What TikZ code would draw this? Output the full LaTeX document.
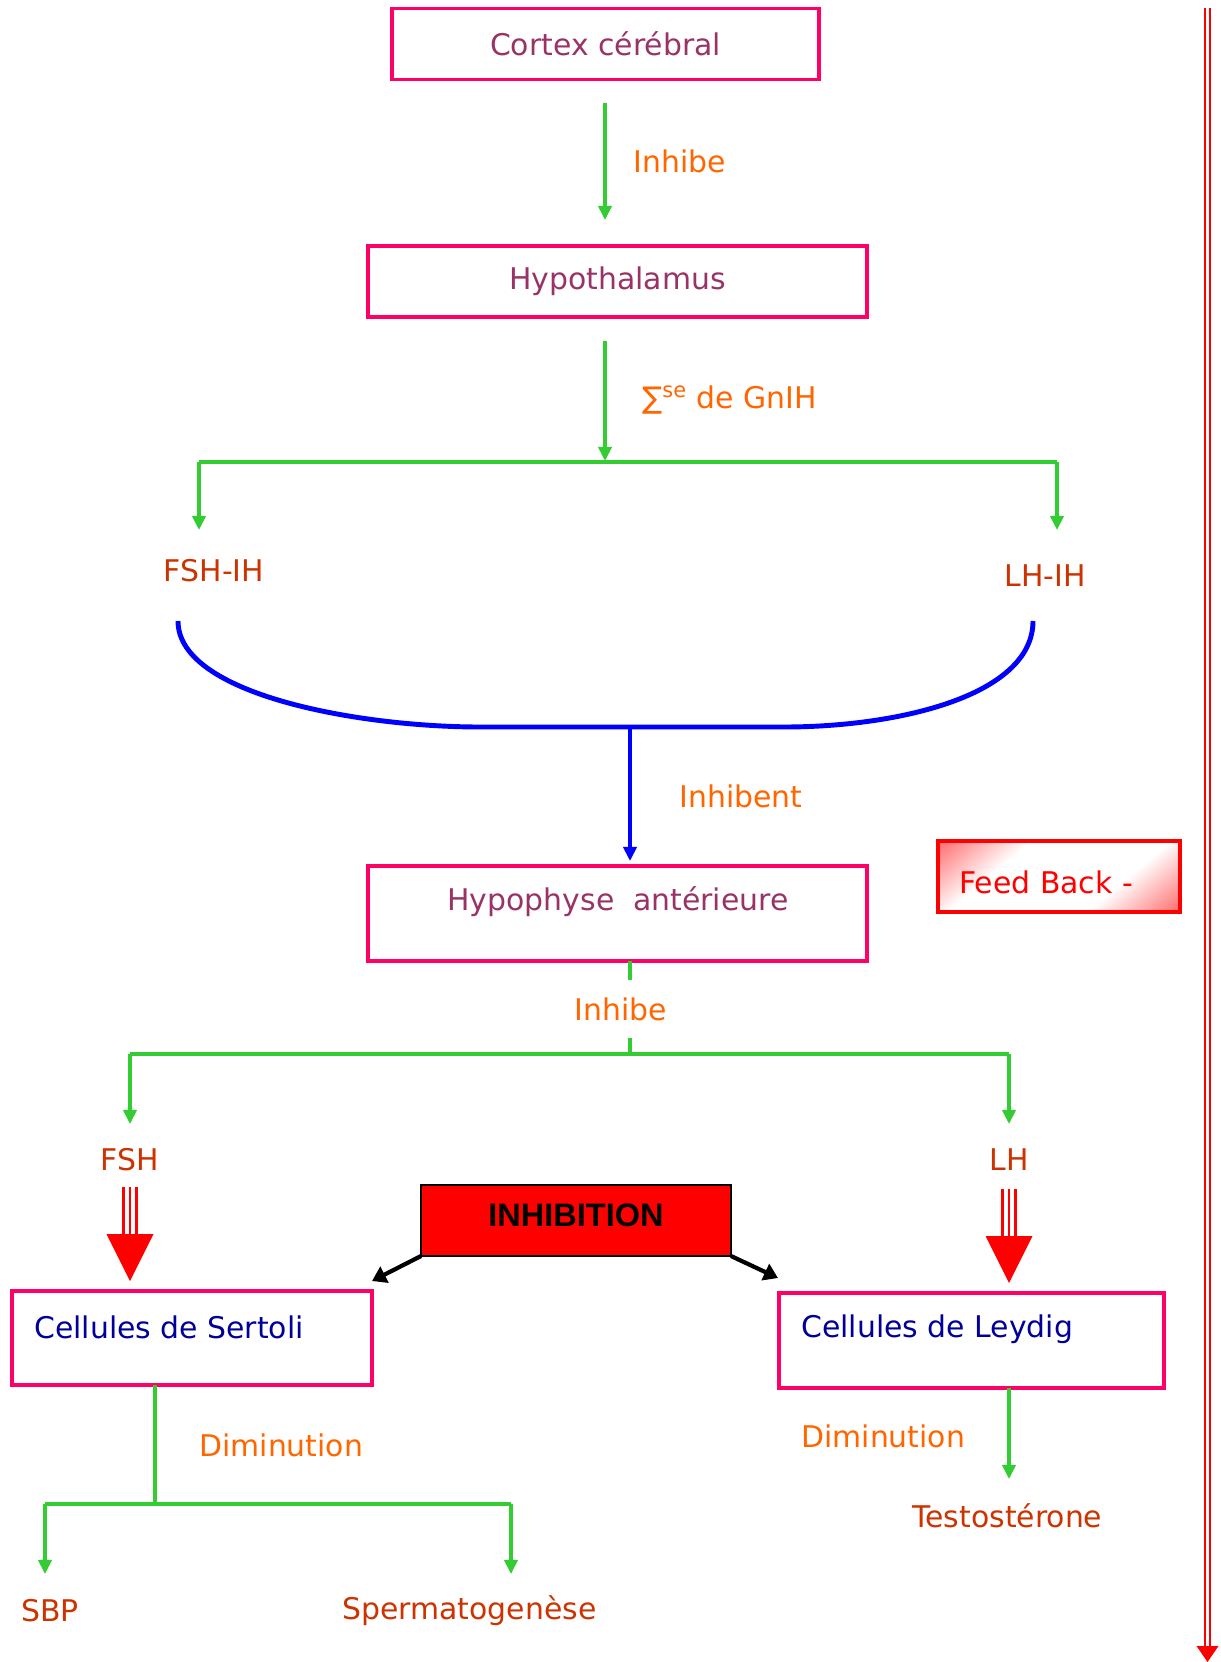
\documentclass[tikz,border=0pt]{standalone}
\usepackage{fontspec}
\setmainfont{DejaVu Sans}
\newfontfamily\arialfont{Liberation Sans}
\usetikzlibrary{arrows.meta,calc}
\definecolor{boxpink}{HTML}{FF0066}
\definecolor{titlecol}{HTML}{993366}
\definecolor{ggreen}{HTML}{33CC33}
\definecolor{orlab}{HTML}{FF6600}
\definecolor{hormcol}{HTML}{CC3300}
\definecolor{navycol}{HTML}{000099}
\pgfdeclareverticalshading{fbshade}{100bp}{color(0bp)=(red); color(35bp)=(white); color(65bp)=(white); color(100bp)=(red)}
\tikzset{
  pinkbox/.style={draw=boxpink, line width=1.8pt, inner sep=0pt, outer sep=0pt},
  txt/.style={inner sep=0pt, font=\fontsize{17}{20}\selectfont},
  title/.style={txt, text=titlecol},
  lab/.style={txt, text=orlab},
  horm/.style={txt, text=hormcol},
  cell/.style={txt, text=navycol},
  gline/.style={draw=ggreen, line width=1.9pt},
  garrow/.style={gline, -{Triangle[length=8pt,width=7.5pt]}},
  barrow/.style={draw=black, line width=2.4pt, -{Triangle[length=8pt,width=10pt]}},
  redline/.style={draw=red, line width=1.3pt},
}
\begin{document}
\begin{tikzpicture}[x=0.02cm,y=-0.02cm]
\useasboundingbox (0,0) rectangle (1220,1662);

% boxes
\node[pinkbox, minimum width=8.54cm, minimum height=1.42cm, title] (cortex) at (605.5,44) {Cortex cérébral};
\node[pinkbox, minimum width=9.98cm, minimum height=1.42cm, title] (hypo) at (617.5,281.5) {Hypothalamus};
\node[pinkbox, minimum width=9.98cm, minimum height=1.9cm] (hypoph) at (617.5,913.5) {};
\node[title] (thypoph) at (618,902) {Hypophyse\ \ antérieure};
\node[draw=red, line width=2.2pt, outer sep=0pt, minimum width=4.84cm, minimum height=1.42cm, shading=fbshade, shading angle=40] (fb) at (1059,876.5) {};
\node[txt, text=red, anchor=west] (tfb) at (959,882) {Feed Back -};
\node[draw=black, line width=0.8pt, outer sep=0pt, fill=red, minimum width=6.2cm, minimum height=1.42cm] (inhib) at (576,1220.5) {};
\node[inner sep=0pt, font=\arialfont\bfseries\fontsize{18.5}{21}\selectfont] (tinhib) at (576,1215) {INHIBITION};
\node[pinkbox, minimum width=7.2cm, minimum height=1.88cm] (sert) at (192,1338) {};
\node[cell, anchor=west] (tsert) at (34,1327) {Cellules de Sertoli};
\node[pinkbox, minimum width=7.7cm, minimum height=1.9cm] (leyd) at (971.5,1340.5) {};
\node[cell, anchor=west] (tleyd) at (801,1329) {Cellules de Leydig};

% labels
\node[lab, anchor=west] (l1) at (633,161) {Inhibe};
\node[lab, anchor=west] (l2) at (642,400) {∑\textsuperscript{se} de GnIH};
\node[horm] (fshih) at (214,571) {FSH-IH};
\node[horm] (lhih) at (1045,576) {LH-IH};
\node[lab, anchor=west] (l3) at (679,796) {Inhibent};
\node[horm] (fsh) at (130,1160) {FSH};
\node[horm] (lh) at (1009,1160) {LH};
\node[lab, anchor=west] (l5) at (199,1445) {Diminution};
\node[lab, anchor=west] (l6) at (801,1436) {Diminution};
\node[horm, anchor=west] (sbp) at (21,1611) {SBP};
\node[horm, anchor=west] (sperm) at (342,1611) {Spermatogenèse};
\node[horm, anchor=west] (testo) at (912,1516) {Testostérone};

% cortex -> hypothalamus
\coordinate (c1) at (605,103);
\coordinate (c2) at (605,220);
\draw[garrow] (c1) -- (c2);
% hypothalamus -> split
\coordinate (c3) at (605,341);
\coordinate (j1) at (605,462);
\coordinate (j1l) at (199,462);
\coordinate (j1r) at (1057,462);
\draw[garrow] (c3) -- ($(j1)+(0,-1)$);
\draw[gline] (j1l) -- (j1r);
\draw[garrow] (j1l) -- (199,530);
\draw[garrow] (j1r) -- (1057,530);

% blue curve
\coordinate (cl) at (178,621);
\coordinate (cr) at (1033,621);
\coordinate (cb) at (630,727);
\draw[draw=blue, line width=2.8pt] (cl) .. controls (178,695) and (360,727) .. (480,727) -- (784,727) .. controls (900,727) and (1033,695) .. (cr);
\draw[draw=blue, line width=2pt, -{Triangle[length=8pt,width=7.5pt]}] (cb) -- (630,861);

% hypophyse -> split
\coordinate (j2) at (630,1054);
\coordinate (j2l) at (130,1054);
\coordinate (j2r) at (1009,1054);
\draw[gline] (hypoph.south -| j2) -- (j2);
\node[lab, fill=white, minimum height=1.15cm, inner xsep=2pt] (l4) at (621,1009) {Inhibe};
\draw[gline] (j2l) -- (j2r);
\draw[garrow] (j2l) -- (130,1124);
\draw[garrow] (j2r) -- (1009,1124);

% triple red arrows
\foreach \dx in {-6.5,0,6.5} {
  \draw[redline] (130+\dx,1187) -- (130+\dx,1236);
  \draw[redline] (1009+\dx,1189) -- (1009+\dx,1238);
}
\fill[red] (106.5,1234) -- (153.5,1234) -- (130,1281) -- cycle;
\fill[red] (985.5,1236) -- (1032.5,1236) -- (1009,1283) -- cycle;

% inhibition arrows
\draw[barrow] (inhib.south west) -- (372,1281);
\draw[barrow] (inhib.south east) -- (778,1278);

% sertoli outputs
\coordinate (j3) at (155,1504);
\coordinate (j3l) at (45,1504);
\coordinate (j3r) at (511,1504);
\draw[gline] (sert.south -| j3) -- (j3);
\draw[gline] (j3l) -- (j3r);
\draw[garrow] (j3l) -- (45,1574);
\draw[garrow] (j3r) -- (511,1574);

% leydig output
\coordinate (j4) at (1009,1479);
\draw[garrow] (leyd.south -| j4) -- (j4);

% right feedback double arrow
\coordinate (fbtop) at (1207.5,8);
\coordinate (fbbot) at (1207.5,1662);
\draw[redline] ($(fbtop)+(-2.8,0)$) -- ($(fbbot)+(-2.8,-16)$);
\draw[redline] ($(fbtop)+(2.8,0)$) -- ($(fbbot)+(2.8,-16)$);
\fill[red] ($(fbbot)+(-11,-16)$) -- ($(fbbot)+(11,-16)$) -- (fbbot) -- cycle;
\end{tikzpicture}
\end{document}
